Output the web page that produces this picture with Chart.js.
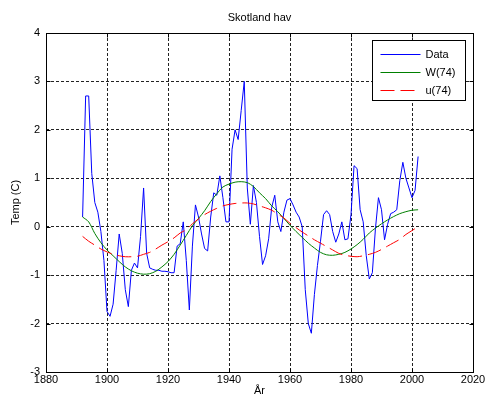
<!DOCTYPE html>
<html>
<head>
<meta charset="utf-8">
<title>Skotland hav</title>
<script src="https://cdn.jsdelivr.net/npm/chart.js@4"></script>
<style>
  html, body { margin: 0; padding: 0; background: #fff; }
  #wrap { width: 488px; height: 403px; }
</style>
</head>
<body>
<div id="wrap"><canvas id="chart" width="488" height="403"></canvas></div>
<script>
// ===== Data =====
const dataYears = [
  1892, 1893, 1894, 1895, 1896, 1897, 1898, 1899, 1900, 1901,
  1902, 1903, 1904, 1905, 1906, 1907, 1908, 1909, 1910, 1911,
  1912, 1913, 1914, 1915, 1916, 1917, 1918, 1919, 1920, 1921,
  1922, 1923, 1924, 1925, 1926, 1927, 1928, 1929, 1930, 1931,
  1932, 1933, 1934, 1935, 1936, 1937, 1938, 1939, 1940, 1941,
  1942, 1943, 1944, 1945, 1946, 1947, 1948, 1949, 1950, 1951,
  1952, 1953, 1954, 1955, 1956, 1957, 1958, 1959, 1960, 1961,
  1962, 1963, 1964, 1965, 1966, 1967, 1968, 1969, 1970, 1971,
  1972, 1973, 1974, 1975, 1976, 1977, 1978, 1979, 1980, 1981,
  1982, 1983, 1984, 1985, 1986, 1987, 1988, 1989, 1990, 1991,
  1992, 1993, 1994, 1995, 1996, 1997, 1998, 1999, 2000, 2001,
  2002
];
const dataTemp = [
  0.2, 2.7, 2.7, 1.1, 0.5, 0.3, -0.1, -0.7, -1.75, -1.85,
  -1.6, -0.9, -0.15, -0.55, -1.3, -1.65, -0.9, -0.75, -0.85, -0.2,
  0.8, -0.55, -0.85, -0.88, -0.9, -0.9, -0.92, -0.92, -0.93, -0.95,
  -0.95, -0.4, -0.35, 0.1, -0.7, -1.72, -0.4, 0.45, 0.2, -0.15,
  -0.45, -0.5, 0.2, 0.7, 0.65, 1.05, 0.6, 0.1, 0.1, 1.6,
  2.0, 1.8, 2.4, 3.0, 0.8, 0.05, 0.85, 0.5, -0.2, -0.78,
  -0.6, -0.25, 0.4, 0.65, 0.1, -0.1, 0.3, 0.55, 0.58, 0.45,
  0.3, 0.2, 0.0, -1.3, -2.0, -2.2, -1.4, -0.8, -0.3, 0.25,
  0.33, 0.25, -0.1, -0.32, -0.15, 0.1, -0.27, -0.25, 0.25, 1.26,
  1.2, 0.35, 0.1, -0.6, -1.08, -0.95, -0.05, 0.6, 0.35, -0.27,
  0.05, 0.27, 0.3, 0.35, 0.95, 1.33, 1.0, 0.8, 0.6, 0.75,
  1.45
];

const smoothYears = [
  1892, 1894, 1896, 1898, 1900, 1902, 1904, 1906, 1908, 1910,
  1912, 1914, 1916, 1918, 1920, 1922, 1924, 1926, 1928, 1930,
  1932, 1934, 1936, 1938, 1940, 1942, 1944, 1946, 1948, 1950,
  1952, 1954, 1956, 1958, 1960, 1962, 1964, 1966, 1968, 1970,
  1972, 1974, 1976, 1978, 1980, 1982, 1984, 1986, 1988, 1990,
  1992, 1994, 1996, 1998, 2000, 2002
];
const wTemp = [
  0.2, 0.1, -0.14, -0.33, -0.48, -0.6, -0.72, -0.83, -0.91, -0.96,
  -0.98, -0.97, -0.92, -0.83, -0.72, -0.57, -0.38, -0.18, 0.02, 0.17,
  0.33, 0.52, 0.68, 0.82, 0.88, 0.92, 0.93, 0.91, 0.83, 0.7,
  0.58, 0.43, 0.31, 0.17, 0.03, -0.1, -0.22, -0.34, -0.44, -0.53,
  -0.58, -0.59, -0.57, -0.53, -0.46, -0.37, -0.26, -0.13, -0.03, 0.06,
  0.14, 0.21, 0.27, 0.31, 0.34, 0.35
];
const uTemp = [
  -0.2, -0.3, -0.38, -0.46, -0.52, -0.57, -0.6, -0.62, -0.62, -0.61,
  -0.57, -0.53, -0.46, -0.38, -0.31, -0.23, -0.13, -0.06, 0.06, 0.16,
  0.25, 0.32, 0.38, 0.43, 0.46, 0.48, 0.49, 0.49, 0.47, 0.43,
  0.39, 0.34, 0.26, 0.18, 0.07, -0.02, -0.11, -0.19, -0.27, -0.34,
  -0.41, -0.48, -0.55, -0.59, -0.61, -0.62, -0.6, -0.57, -0.53, -0.47,
  -0.4, -0.33, -0.26, -0.16, -0.08, 0.0
];

const xTicks = [1880, 1900, 1920, 1940, 1960, 1980, 2000, 2020];
const yTicks = [-3, -2, -1, 0, 1, 2, 3, 4];
const seriesLabels = ["Data", "W(74)", "u(74)"];

const toPoints = (xs, ys) => xs.map((x, i) => ({ x: x, y: ys[i] }));

const FONT = "'Liberation Sans', Arial, Helvetica, sans-serif";

// ===== Frame, inward ticks and legend box (MATLAB look) =====
const matlabAxes = {
  id: "matlabAxes",
  afterDraw(chart) {
    const { ctx, chartArea: a, scales } = chart;
    const L = Math.round(a.left) + 0.5, R = Math.round(a.right) + 0.5;
    const T = Math.round(a.top) + 0.5, B = Math.round(a.bottom) + 0.5;
    ctx.save();
    ctx.strokeStyle = "#000";
    ctx.lineWidth = 1;
    ctx.setLineDash([]);
    ctx.strokeRect(L, T, R - L, B - T);

    // tick marks pointing inside
    ctx.beginPath();
    xTicks.forEach(v => {
      const px = Math.round(scales.x.getPixelForValue(v)) + 0.5;
      ctx.moveTo(px, B); ctx.lineTo(px, B - 4);
      ctx.moveTo(px, T); ctx.lineTo(px, T + 4);
    });
    yTicks.forEach(v => {
      const py = Math.round(scales.y.getPixelForValue(v)) + 0.5;
      ctx.moveTo(L, py); ctx.lineTo(L + 4, py);
      ctx.moveTo(R, py); ctx.lineTo(R - 4, py);
    });
    ctx.stroke();

    // legend
    const bw = 93, bh = 60;
    const bx = Math.round(a.right) - 101 + 0.5, by = Math.round(a.top) + 7 + 0.5;
    ctx.fillStyle = "#fff";
    ctx.fillRect(bx, by, bw, bh);
    ctx.strokeRect(bx, by, bw, bh);
    ctx.font = "11px " + FONT;
    ctx.textBaseline = "middle";
    ctx.textAlign = "left";
    chart.data.datasets.forEach((ds, i) => {
      const ry = Math.round(by + 13 + i * 18) + 0.5;
      ctx.strokeStyle = ds.borderColor;
      ctx.setLineDash(ds.borderDash || []);
      ctx.beginPath();
      ctx.moveTo(bx + 8, ry);
      ctx.lineTo(bx + 48, ry);
      ctx.stroke();
      ctx.setLineDash([]);
      ctx.fillStyle = "#000";
      ctx.fillText(ds.label, bx + 53, ry);
    });
    ctx.restore();
  }
};

// ===== Chart =====
const ctx = document.getElementById("chart").getContext("2d");
new Chart(ctx, {
  type: "line",
  data: {
    datasets: [
      {
        label: seriesLabels[0],
        data: toPoints(dataYears, dataTemp),
        borderColor: "#0000ff",
        borderWidth: 1,
        pointRadius: 0,
        tension: 0,
        order: 3
      },
      {
        label: seriesLabels[1],
        data: toPoints(smoothYears, wTemp),
        borderColor: "#008000",
        borderWidth: 1,
        pointRadius: 0,
        tension: 0.3,
        order: 2
      },
      {
        label: seriesLabels[2],
        data: toPoints(smoothYears, uTemp),
        borderColor: "#ff0000",
        borderWidth: 1,
        borderDash: [14, 6],
        pointRadius: 0,
        tension: 0.3,
        order: 1
      }
    ]
  },
  options: {
    responsive: false,
    animation: false,
    devicePixelRatio: 1,
    layout: { padding: { left: 0, right: 15, top: 0, bottom: 0 } },
    plugins: {
      legend: { display: false },
      tooltip: { enabled: false },
      title: {
        display: true,
        text: "Skotland hav",
        fullSize: false,
        color: "#000",
        font: { family: FONT, size: 11, weight: "normal", lineHeight: 1.2 },
        padding: { top: 11, bottom: 8.8 }
      }
    },
    scales: {
      x: {
        type: "linear",
        min: 1880,
        max: 2020,
        afterBuildTicks: (scale) => { scale.ticks = xTicks.map(v => ({ value: v })); },
        afterFit: (scale) => { scale.height = 31; },
        ticks: {
          color: "#000",
          font: { family: FONT, size: 11 },
          padding: 1,
          maxRotation: 0,
          callback: (v) => String(v)
        },
        grid: { color: "#222", drawTicks: false, lineWidth: 1 },
        border: { display: false, dash: [3, 2] },
        title: {
          display: true,
          text: "År",
          color: "#000",
          font: { family: FONT, size: 11 },
          padding: { top: 0, bottom: 5 }
        }
      },
      y: {
        type: "linear",
        min: -3,
        max: 4,
        afterBuildTicks: (scale) => { scale.ticks = yTicks.map(v => ({ value: v })); },
        afterFit: (scale) => { scale.width = 46; },
        ticks: {
          color: "#000",
          font: { family: FONT, size: 11 },
          padding: 6,
          callback: (v) => String(v)
        },
        grid: { color: "#222", drawTicks: false, lineWidth: 1 },
        border: { display: false, dash: [3, 2] },
        title: {
          display: true,
          text: "Temp (C)",
          color: "#000",
          font: { family: FONT, size: 11 },
          padding: { top: 9, bottom: 0 }
        }
      }
    }
  },
  plugins: [matlabAxes]
});
</script>
</body>
</html>
